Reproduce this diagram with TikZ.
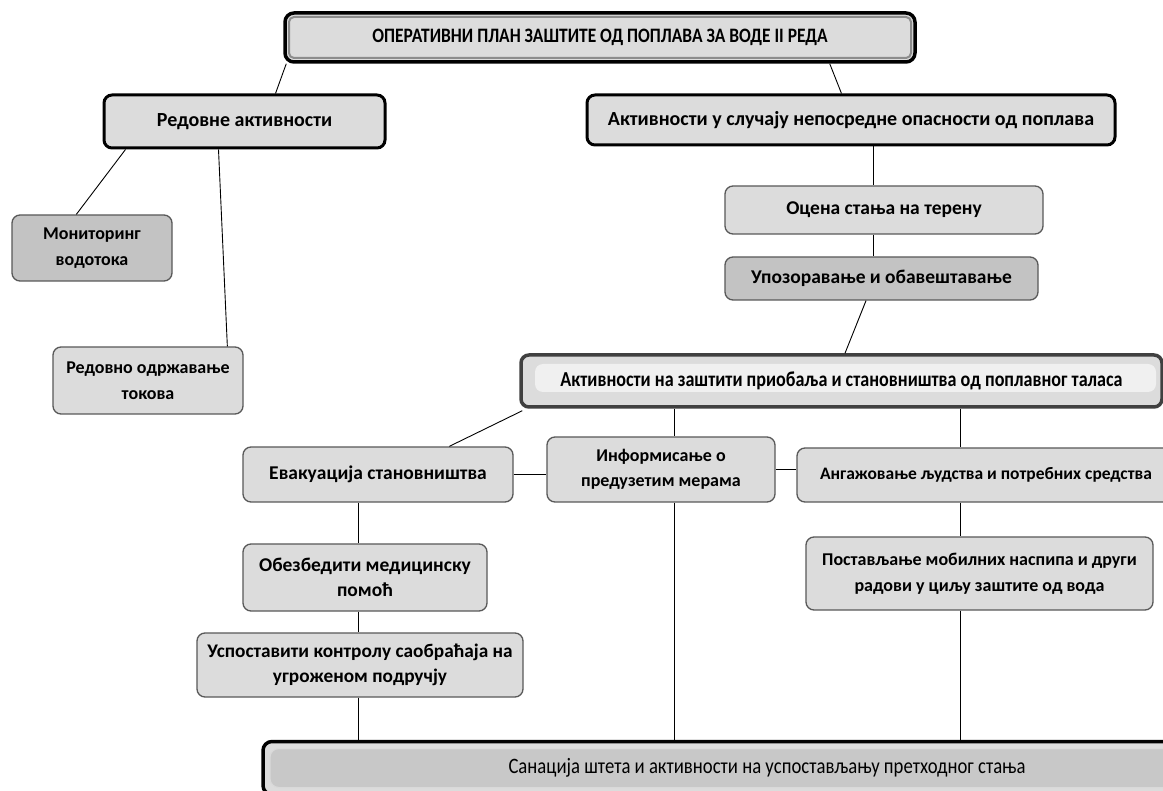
\documentclass[tikz,border=0pt]{standalone}
\usepackage{fontspec}
\setmainfont{Carlito}
\newfontfamily\condfont[FakeStretch=0.85]{Carlito}
\definecolor{boxgray}{RGB}{220,220,220}
\definecolor{boxdark}{RGB}{195,195,195}
\definecolor{bandgray}{RGB}{200,200,200}
\begin{document}
\begin{tikzpicture}[x=1pt,y=-1pt,
  box/.style={draw=black!65, line width=1.3, rounded corners=8, fill=boxgray, align=center,
    inner sep=2, font=\bfseries\fontsize{18}{25.5}\selectfont},
  fs/.style={font=\bfseries\fontsize{#1}{25.5}\selectfont},
  darkbox/.style={box, fill=boxdark},
  mainbox/.style={box, draw=black, line width=3},
  titlebox/.style={draw=black, line width=3.5, rounded corners=9, fill=boxgray,
    font=\condfont\bfseries\fontsize{20.5}{24}\selectfont,
    path picture={\draw[black!45, line width=2, rounded corners=5]
      ([shift={(4,4)}]path picture bounding box.north west) rectangle
      ([shift={(-4,-4)}]path picture bounding box.south east);}},
  bandbox/.style={draw=black!75, line width=3.5, rounded corners=8, fill=boxgray,
    font=\condfont\bfseries\fontsize{21.3}{24}\selectfont,
    path picture={\fill[black!6]
      ([shift={(14,9)}]path picture bounding box.north west) rectangle
      ([shift={(-6,-15)}]path picture bounding box.south east);}},
  endbox/.style={draw=black, line width=3.5, rounded corners=9, fill=boxgray,
    font=\condfont\fontsize{22}{24}\selectfont,
    path picture={\filldraw[fill=bandgray, draw=black!15, line width=1]
      ([shift={(7,7)}]path picture bounding box.north west) rectangle
      ([shift={(-7,-7)}]path picture bounding box.south east);}},
  link/.style={draw=black, line width=0.9}]
\clip (0,0) rectangle (1163,791);
\fill[white] (0,0) rectangle (1163,791);

% upper part
\node[titlebox, minimum width=630, minimum height=49] (title) at (600,37.5)
  {ОПЕРАТИВНИ ПЛАН ЗАШТИТЕ ОД ПОПЛАВА ЗА ВОДЕ II РЕДА};
\node[mainbox, fs=20, minimum width=281, minimum height=53] (redovne) at (244.5,121.5) {Редовне активности};
\node[mainbox, fs=20, minimum width=528, minimum height=50] (aktopas) at (851,120)
  {Активности у случају непосредне опасности од поплава};
\node[darkbox, minimum width=160, minimum height=66] (monit) at (92,248) {Мониторинг\\водотока};
\node[box, minimum width=190, minimum height=67] (redovno) at (148,380.5) {Редовно одржавање\\токова};
\node[box, fs=19.5, minimum width=318, minimum height=48] (ocena) at (884,210) {Оцена стања на терену};
\node[darkbox, fs=19.5, minimum width=313, minimum height=43] (upozor) at (881.5,278.5) {Упозоравање и обавештавање};

% middle part
\node[bandbox, minimum width=641, minimum height=52] (zastiti) at (841.5,381)
  {Активности на заштити приобаља и становништва од поплавног таласа};
\node[box, fs=19.5, minimum width=270, minimum height=55] (evak) at (378,474.5) {Евакуација становништва};
\node[box, minimum width=228, minimum height=65] (inform) at (661,469.5) {Информисање о\\предузетим мерама};
\node[box, fs=17.5, minimum width=378, minimum height=54] (angaz) at (986,475) {Ангажовање људства и потребних средства};
\node[box, fs=19.5, minimum width=244, minimum height=67] (obezb) at (365,577.5) {Обезбедити медицинску\\помоћ};
\node[box, fs=19.3, minimum width=326, minimum height=64] (uspost) at (360,665) {Успоставити контролу саобраћаја на\\угроженом подручју};
\node[box, minimum width=347, minimum height=73] (postav) at (979.5,573.5)
  {Постављање мобилних наспипа и други\\радови у циљу заштите од вода};

% bottom
\node[endbox, minimum width=1008, minimum height=53] (sanac) at (767,768)
  {Санација штета и активности на успостављању претходног стања};

% links
\draw[link] ([xshift=3]title.south west) -- ([xshift=173]redovne.north west);
\draw[link] ([xshift=-87]title.south east) -- ([xshift=256]aktopas.north west);
\draw[link] ([xshift=23]redovne.south west) -- ([xshift=65]monit.north west);
\draw[link] ([xshift=116]redovne.south west) -- ([xshift=175]redovno.north west);
\draw[link] ([xshift=22]aktopas.south) -- ([xshift=22]aktopas.south |- ocena.north);
\draw[link] ([xshift=-11]ocena.south) -- ([xshift=-11]ocena.south |- upozor.north);
\draw[link] ([xshift=-15.5]upozor.south) -- ([xshift=3.5]zastiti.north);
\draw[link] ([xshift=3,yshift=-2]zastiti.south west) -- ([xshift=207]evak.north west);
\draw[link] ([xshift=13]inform.north |- zastiti.south) -- ([xshift=13]inform.north);
\draw[link] ([xshift=-26]angaz.north |- zastiti.south) -- ([xshift=-26]angaz.north);
\draw[link] (evak.east) -- (evak.east -| inform.west);
\draw[link] (inform.east) -- (inform.east -| angaz.west);
\draw[link] ([xshift=-20]evak.south) -- ([xshift=-20]evak.south |- obezb.north);
\draw[link] ([xshift=-7]obezb.south) -- ([xshift=-7]obezb.south |- uspost.north);
\draw[link] ([xshift=-2]uspost.south) -- ([xshift=-2]uspost.south |- sanac.north);
\draw[link] ([xshift=13]inform.south) -- ([xshift=13]inform.south |- sanac.north);
\draw[link] ([xshift=-26]angaz.south) -- ([xshift=-26]angaz.south |- postav.north);
\draw[link] ([xshift=-19.5]postav.south) -- ([xshift=-19.5]postav.south |- sanac.north);
\end{tikzpicture}
\end{document}
